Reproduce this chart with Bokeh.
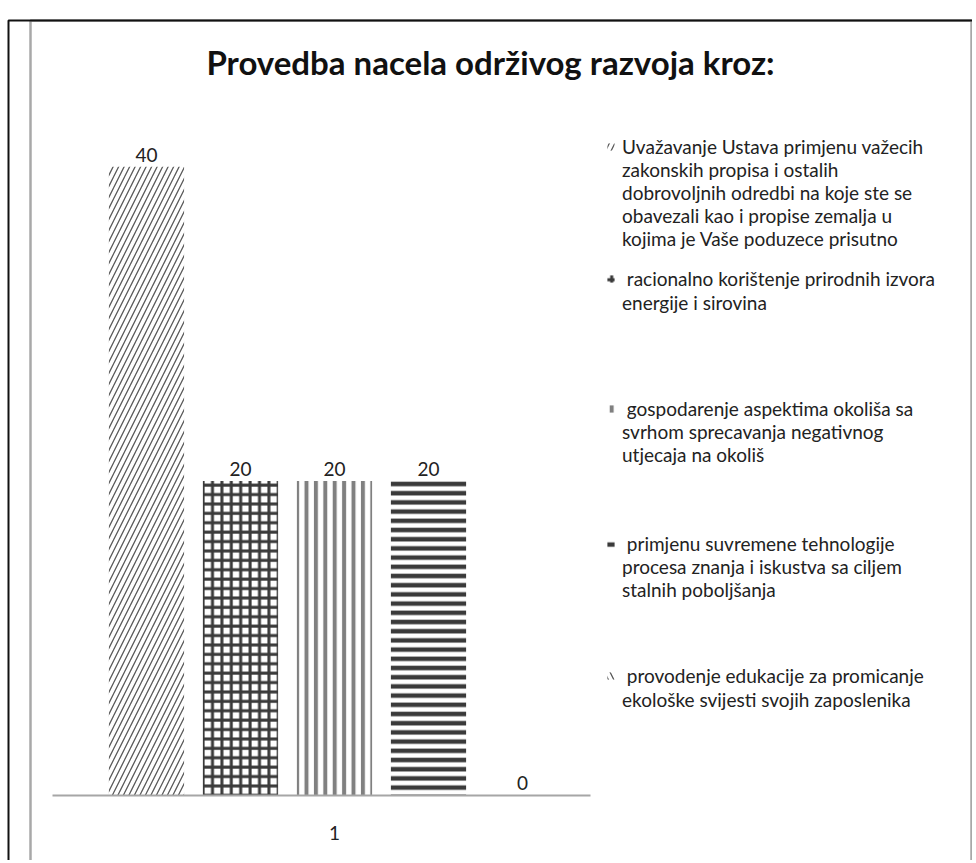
from bokeh.plotting import figure
from bokeh.models import (ColumnDataSource, LabelSet, Label, Legend, LegendItem,
                          FixedTicker, Range1d, BoxAnnotation)
from bokeh.embed import file_html
from bokeh.resources import INLINE
from bokeh.core.properties import value

# ---------------- data ----------------
title_text = "Provedba nacela održivog razvoja kroz:"
category_label = "1"
series_names = [
    "Uvažavanje Ustava primjenu važecih\nzakonskih propisa i ostalih\ndobrovoljnih odredbi na koje ste se\nobavezali kao i propise zemalja u\nkojima je Vaše poduzece prisutno",
    "\u00a0racionalno korištenje prirodnih izvora\nenergije i sirovina",
    "\u00a0gospodarenje aspektima okoliša sa\nsvrhom sprecavanja negativnog\nutjecaja na okoliš",
    "\u00a0primjenu suvremene tehnologije\nprocesa znanja i iskustva sa ciljem\nstalnih poboljšanja",
    "\u00a0provodenje edukacije za promicanje\nekološke svijesti svojih zaposlenika",
]
values = [40, 20, 20, 20, 0]

# ---------------- styles / layout ----------------
hatch_patterns = ["/", "+", "|", "-", "\\"]
hatch_colors = ["#5a5a5a", "#3a3a3a", "#808080", "#3a3a3a", "#555555"]
hatch_scales = [11, 9.4, 9.4, 9.2, 11]
hatch_weights = [1.3, 3, 4, 4.5, 1.3]
FONT = "Lato"
W, H = 972, 860
LEGEND_X = 606
LINE_PX = 24
legend_first_line_px = [142, 278, 406, 541, 675]

positions = list(range(len(values)))
source = ColumnDataSource(dict(
    x=positions, top=values, label=[str(v) for v in values],
    hp=hatch_patterns, hc=hatch_colors, hs=hatch_scales, hw=hatch_weights,
))

p = figure(width=W, height=H, output_backend="svg", toolbar_location=None,
           x_range=Range1d(-1.553, 8.787), y_range=Range1d(-4.135, 50.57),
           min_border_left=0, min_border_right=0, min_border_top=0,
           min_border_bottom=0, title=None)
p.outline_line_color = None
p.background_fill_color = "white"
p.border_fill_color = "white"
p.xgrid.visible = False
p.ygrid.visible = False
p.yaxis.visible = False

bars = p.vbar(x="x", top="top", bottom=0, width=0.8, source=source,
              fill_color="white", line_color=None,
              hatch_pattern="hp", hatch_color="hc", hatch_scale="hs",
              hatch_weight="hw")

xa = p.xaxis[0]
xa.fixed_location = 0
xa.bounds = (-1.0, 4.72)
xa.ticker = FixedTicker(ticks=[2])
xa.major_label_overrides = {2: category_label}
xa.axis_line_color = "#a6a6a6"
xa.axis_line_width = 2
xa.major_tick_line_color = None
xa.minor_tick_line_color = None
xa.major_label_standoff = 25
xa.major_label_text_font = FONT
xa.major_label_text_font_size = "19px"
xa.major_label_text_color = "#222222"

labels = LabelSet(x="x", y="top", text="label", source=source, y_offset=5,
                  text_align="center", text_baseline="bottom",
                  text_font=value(FONT), text_font_size="19px",
                  text_color="#222222")
p.add_layout(labels)

for i, name in enumerate(series_names):
    lines = name.split("\n")
    its = [LegendItem(label=lines[0], renderers=[bars], index=i)]
    if len(lines) > 1:
        its.append(LegendItem(label="\n".join(lines[1:]), renderers=[]))
    top_px = legend_first_line_px[i] - LINE_PX / 2
    bottom_px = top_px + len(lines) * LINE_PX
    lg = Legend(items=its, location=(LEGEND_X, H - bottom_px),
                glyph_width=9, glyph_height=9, label_standoff=7,
                label_height=LINE_PX, spacing=0, padding=0, margin=0,
                border_line_color=None, background_fill_alpha=0,
                label_text_font=FONT, label_text_font_size="19px",
                label_text_line_height=1.26, label_text_color="#222222")
    p.add_layout(lg, "center")

p.add_layout(Label(x=490, y=61, x_units="canvas", y_units="canvas",
                   text=title_text, text_align="center", text_baseline="middle",
                   text_font=FONT, text_font_size="33px",
                   text_font_style="bold", text_color="#111111"))

p.add_layout(BoxAnnotation(left=30, right=971, top=20, bottom=2000,
                           left_units="canvas", right_units="canvas",
                           top_units="canvas", bottom_units="canvas",
                           fill_alpha=0, line_alpha=1, line_color="#a8a8a8",
                           line_width=2.5))
p.add_layout(BoxAnnotation(left=8, right=2000, top=20, bottom=2000,
                           left_units="canvas", right_units="canvas",
                           top_units="canvas", bottom_units="canvas",
                           fill_alpha=0, line_alpha=1, line_color="#111111",
                           line_width=2))

open("out.html", "w").write(file_html(p, INLINE))
